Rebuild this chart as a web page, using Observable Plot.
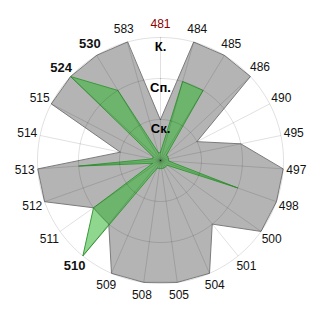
<!DOCTYPE html>
<html>
<head>
<meta charset="utf-8">
<script src="https://cdn.jsdelivr.net/npm/d3@7"></script>
<script src="https://cdn.jsdelivr.net/npm/@observablehq/plot@0.6"></script>
<style>
  html, body { margin: 0; padding: 0; background: #fff; overflow: hidden; }
  svg { display: block; }
</style>
</head>
<body>
<div id="chart"></div>
<script>
const categories = ["481","484","485","486","490","495","497","498","500","501","504","505","508","509","510","511","512","513","514","515","524","530","583"];
const greyValues  = [1, 3, 3, 3, 1, 2, 3, 3, 3, 2, 3, 3, 3, 3, 2, 2, 3, 3, 1, 3, 3, 3, 3];
const greenValues = [0.2, 2, 2, 0.2, 0.2, 0.2, 0.2, 2, 0.2, 0.2, 0.2, 0.2, 0.2, 0.2, 3, 2, 0.2, 2, 0.2, 0.2, 3, 2, 0.2];
const ringValues = [1, 2, 3];
const ringLabels = ["Ск.", "Сп.", "К."];
const boldCategories = ["510", "524", "530"];
const highlightCategory = "481";

const n = categories.length;
const angle = (i) => (i / n) * 2 * Math.PI;
const px = (v, i) => v * Math.sin(angle(i));
const py = (v, i) => v * Math.cos(angle(i));

const greyPts = categories.map((c, i) => ({c, x: px(greyValues[i], i), y: py(greyValues[i], i)}));
const greenPts = categories.map((c, i) => ({c, x: px(greenValues[i], i), y: py(greenValues[i], i)}));

const maxV = 3;
const labelR = 3.32;
const D = 160 / 41;

const ringPts = ringValues.flatMap((r) =>
  d3.range(0, 361, 2).map((deg) => ({r, x: r * Math.sin(deg * Math.PI / 180), y: r * Math.cos(deg * Math.PI / 180)}))
);
const spokes = categories.map((c, i) => ({c, x2: px(maxV, i), y2: py(maxV, i)}));
const catLabels = categories.map((c, i) => ({c, x: px(labelR, i), y: py(labelR, i)}));
const normalLabels = catLabels.filter((d) => !boldCategories.includes(d.c));
const boldLabels = catLabels.filter((d) => boldCategories.includes(d.c));
const rings = ringValues.map((r, i) => ({r, label: ringLabels[i]}));

const chart = Plot.plot({
  width: 320,
  height: 320,
  margin: 0,
  x: {domain: [-D, D], axis: null},
  y: {domain: [-D, D], axis: null},
  style: {fontFamily: "Arial, 'Liberation Sans', sans-serif", background: "#fff"},
  marks: [
    Plot.line(greyPts, {x: "x", y: "y", curve: "linear-closed", fill: "#b4b4b4", stroke: "#7c7c7c", strokeWidth: 1}),
    Plot.line(greenPts, {x: "x", y: "y", curve: "linear-closed", fill: "#33b533", fillOpacity: 0.55, stroke: "#3a9a3a", strokeWidth: 1}),
    Plot.line(ringPts, {x: "x", y: "y", z: "r", stroke: "#000", strokeOpacity: 0.12, strokeWidth: 1}),
    Plot.link(spokes, {x1: 0, y1: 0, x2: "x2", y2: "y2", stroke: "#000", strokeOpacity: 0.12, strokeWidth: 1}),
    Plot.text(normalLabels, {x: "x", y: "y", text: "c", fontSize: 12, textAnchor: "middle", lineAnchor: "middle",
      fill: (d) => d.c === highlightCategory ? "#8b0000" : "#111"}),
    Plot.text(boldLabels, {x: "x", y: "y", text: "c", fontSize: 13, fontWeight: "bold", textAnchor: "middle", lineAnchor: "middle", fill: "#111"}),
    Plot.text(rings, {x: 0, y: "r", text: "label", dy: 9, fontSize: 13, fontWeight: "bold", textAnchor: "middle", lineAnchor: "middle", fill: "#000"})
  ]
});
document.getElementById("chart").appendChild(chart);
</script>
</body>
</html>
